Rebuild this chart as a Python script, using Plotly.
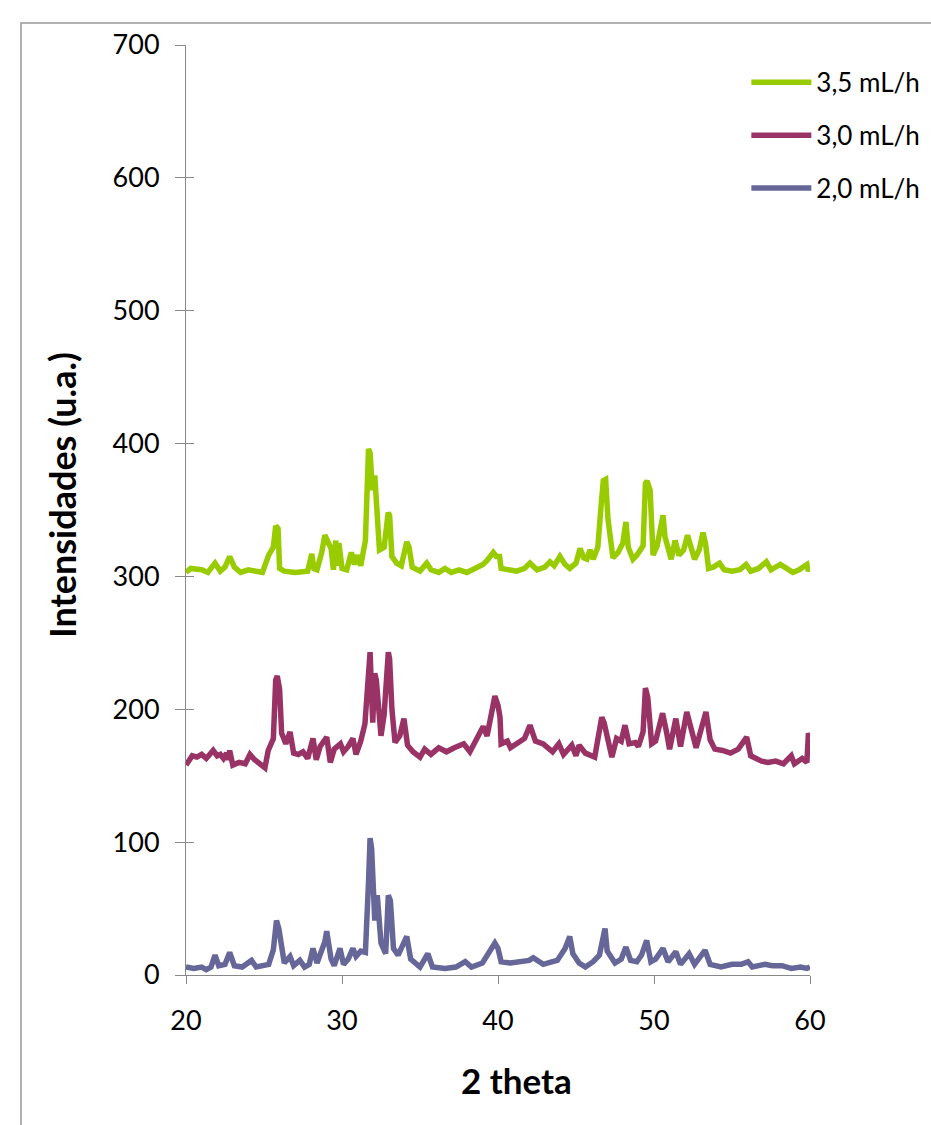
import plotly.graph_objects as go

# 3,5 mL/h
x_35 = [20.0, 20.3, 21.0, 21.4, 21.86, 22.2, 22.5, 22.8, 23.1, 23.5, 24.0, 24.5, 24.9, 25.3, 25.6, 25.75, 25.9, 26.0,
        26.3, 27.0, 27.8, 28.06, 28.2, 28.4, 28.7, 28.9, 29.1, 29.3, 29.45, 29.6, 29.7, 29.8, 30.0, 30.3, 30.6, 30.8,
        31.0, 31.2, 31.5, 31.7, 31.8, 31.95, 32.1, 32.3, 32.4, 32.7, 32.96, 33.05, 33.2, 33.5, 33.8, 34.15, 34.3, 34.5,
        35.0, 35.43, 35.7, 36.2, 36.6, 37.0, 37.5, 38.0, 38.5, 39.04, 39.3, 39.7, 39.9, 40.1, 40.2, 40.7, 41.2, 41.7,
        42.05, 42.5, 43.0, 43.33, 43.6, 43.97, 44.3, 44.6, 45.0, 45.26, 45.5, 45.7, 45.9, 46.1, 46.4, 46.6, 46.75, 46.9,
        47.05, 47.37, 47.7, 48.0, 48.2, 48.35, 48.65, 48.9, 49.3, 49.45, 49.55, 49.75, 49.94, 50.2, 50.58, 50.7, 50.9,
        51.1, 51.35, 51.6, 51.9, 52.15, 52.3, 52.6, 52.9, 53.14, 53.3, 53.5, 53.8, 54.2, 54.5, 55.0, 55.5, 55.9, 56.2,
        56.7, 57.2, 57.5, 58.1, 58.4, 58.9, 59.3, 59.8, 59.9, 60.0]
y_35 = [303, 306, 305, 303, 310, 304, 307, 315, 307, 303, 305, 304, 303, 316, 322, 338, 336, 306,
        304, 303, 304, 317, 306, 305, 318, 331, 326, 321, 305, 327, 308, 325, 306, 305, 318, 309,
        316, 308, 327, 396, 393, 365, 376, 340, 320, 322, 348, 346, 315, 310, 308, 326, 322, 307,
        304, 310, 305, 303, 306, 303, 305, 303, 306, 309, 312, 318, 315, 315, 306, 305, 304, 306,
        310, 305, 307, 311, 308, 315, 309, 306, 310, 321, 314, 313, 320, 313, 322, 352, 372, 373,
        343, 314, 318, 325, 341, 322, 313, 316, 323, 370, 372, 365, 316, 323, 346, 330, 321,
        313, 327, 316, 320, 331, 325, 313, 320, 333, 325, 306, 307, 310, 305, 304, 305, 309, 304,
        306, 311, 305, 309, 307, 303, 305, 309, 304, 307]

# 3,0 mL/h
x_30 = [20.0, 20.2, 20.4, 20.7, 21.0, 21.3, 21.74, 22.0, 22.2, 22.4, 22.6, 22.7, 22.8, 23.0, 23.4, 23.8, 24.1, 24.4,
        24.7, 25.06, 25.27, 25.6, 25.75, 25.85, 26.0, 26.13, 26.4, 26.67, 26.9, 27.2, 27.5, 27.8, 28.14, 28.35, 28.6,
        29.02, 29.25, 29.5, 29.9, 30.1, 30.4, 30.7, 30.9, 31.2, 31.47, 31.7, 31.8, 31.97, 32.1, 32.2, 32.5, 32.7,
        32.97, 33.05, 33.2, 33.4, 33.7, 33.97, 34.2, 34.55, 35.0, 35.3, 35.7, 36.2, 36.7, 37.2, 37.8, 38.2, 38.6,
        39.05, 39.3, 39.8, 40.0, 40.13, 40.2, 40.6, 40.8, 41.2, 41.7, 42.05, 42.4, 42.9, 43.5, 43.9, 44.2, 44.73,
        45.0, 45.2, 45.6, 46.2, 46.5, 46.65, 46.8, 47.3, 47.6, 47.9, 48.14, 48.4, 48.8, 49.0, 49.3, 49.45, 49.6,
        49.85, 50.1, 50.55, 50.8, 51.0, 51.4, 51.7, 52.1, 52.4, 52.7, 53.0, 53.33, 53.6, 53.9, 54.4, 54.9, 55.4,
        55.94, 56.2, 56.9, 57.3, 57.8, 58.3, 58.8, 59.0, 59.5, 59.8, 59.9, 60.0]
y_30 = [158, 162, 165, 164, 166, 163, 169, 165, 166, 163, 167, 162, 169, 158, 160, 159, 166, 162,
        159, 156, 169, 178, 222, 225, 215, 182, 174, 183, 167, 166, 168, 163, 178, 162, 172,
        179, 160, 170, 174, 168, 172, 178, 166, 176, 189, 230, 243, 190, 227, 222, 180, 196,
        243, 238, 200, 175, 180, 193, 173, 168, 164, 170, 166, 171, 168, 171, 174, 168, 177,
        187, 180, 210, 203, 194, 174, 176, 171, 174, 178, 188, 176, 174, 168, 174, 166, 173,
        165, 173, 167, 164, 185, 194, 190, 164, 178, 176, 188, 174, 175, 172, 183, 216, 209,
        174, 176, 197, 183, 170, 193, 172, 198, 183, 171, 184, 198, 177, 170, 169, 167, 170,
        179, 165, 161, 160, 161, 159, 165, 159, 163, 160, 182, 178]

# 2,0 mL/h
x_20 = [20.0, 20.5, 21.0, 21.3, 21.6, 21.86, 22.1, 22.5, 22.8, 23.1, 23.6, 24.2, 24.5, 25.0, 25.3, 25.6, 25.8, 25.95,
        26.1, 26.3, 26.67, 26.9, 27.3, 27.6, 27.9, 28.14, 28.4, 28.9, 29.02, 29.3, 29.5, 29.87, 30.1, 30.4, 30.7,
        30.9, 31.2, 31.5, 31.7, 31.8, 31.9, 32.1, 32.26, 32.5, 32.8, 32.97, 33.1, 33.3, 33.6, 34.15, 34.4, 35.0,
        35.5, 35.8, 36.6, 37.3, 37.9, 38.3, 39.0, 39.27, 39.8, 40.0, 40.2, 40.8, 41.4, 42.0, 42.26, 42.9, 43.5,
        43.8, 44.3, 44.6, 44.8, 45.2, 45.6, 46.1, 46.5, 46.86, 47.0, 47.5, 47.9, 48.2, 48.5, 48.9, 49.2, 49.53,
        49.8, 50.1, 50.58, 50.9, 51.4, 51.7, 52.25, 52.6, 53.27, 53.6, 54.3, 55.0, 55.6, 56.03, 56.3, 57.1, 57.6,
        58.2, 58.8, 59.4, 59.8, 60.0]
y_20 = [6, 5, 6, 4, 6, 15, 7, 8, 17, 7, 6, 11, 6, 7, 8, 19, 41, 35,
        21, 9, 14, 7, 11, 6, 8, 20, 9, 25, 33, 12, 7, 20, 8, 12, 20,
        14, 18, 17, 70, 103, 95, 41, 60, 24, 16, 60, 56, 20, 15, 29, 12, 6,
        16, 6, 5, 6, 10, 6, 9, 14, 24, 20, 10, 9, 10, 11, 13, 8, 10,
        11, 20, 29, 16, 9, 6, 10, 15, 35, 18, 9, 12, 21, 11, 10, 15, 26,
        10, 12, 20, 10, 17.5, 8, 16, 8, 18.6, 8, 6, 8, 8, 10, 6, 8, 7,
        7, 5, 6, 5, 6]

series_names = ["3,5 mL/h", "3,0 mL/h", "2,0 mL/h"]
series_colors = ["#99CC00", "#993366", "#666699"]
x_ticks = [20, 30, 40, 50, 60]
y_ticks = [0, 100, 200, 300, 400, 500, 600, 700]

FONT = "Lato, Carlito, Calibri, sans-serif"

fig = go.Figure()
for name, xs, ys, col in zip(series_names, [x_35, x_30, x_20], [y_35, y_30, y_20], series_colors):
    fig.add_trace(go.Scatter(x=xs, y=ys, mode="lines", name=name,
                             line=dict(color=col, width=5.5), legendgroup=name))

# dummy trace for inside ticks axis
fig.add_trace(go.Scatter(x=[None], y=[None], yaxis="y2", showlegend=False, hoverinfo="skip"))

fig.update_layout(
    width=931, height=1125,
    margin=dict(l=186, r=121, t=45, b=150, autoexpand=False),
    paper_bgcolor="white", plot_bgcolor="white",
    font=dict(family=FONT, size=27, color="black"),
    showlegend=True,
    legend=dict(x=0.898, y=0.985, xanchor="left", yanchor="top",
                font=dict(size=26), tracegroupgap=16, bgcolor="rgba(0,0,0,0)",
                itemwidth=60),
    xaxis=dict(range=[20, 60], tickvals=x_ticks, showgrid=False, zeroline=False,
               showline=True, linecolor="#888888", linewidth=1,
               ticks="outside", ticklen=8, tickcolor="#888888",
               ticklabelstandoff=14, automargin=False),
    yaxis=dict(range=[0, 700], tickvals=y_ticks, showgrid=False, zeroline=False,
               showline=True, linecolor="#888888", linewidth=1,
               ticks="outside", ticklen=10, tickcolor="#888888",
               ticklabelstandoff=10, automargin=False),
    yaxis2=dict(range=[0, 700], tickvals=y_ticks, overlaying="y", side="left",
                showgrid=False, zeroline=False, showline=False,
                ticks="inside", ticklen=8, tickcolor="#888888", showticklabels=False),
    annotations=[
        dict(text="<b>2 theta</b>", x=0.530, y=-0.113, xref="paper", yref="paper",
             showarrow=False, font=dict(size=35), xanchor="center", yanchor="middle"),
        dict(text="<b>Intensidades (u.a.)</b>", x=-0.199, y=0.516, xref="paper", yref="paper",
             showarrow=False, font=dict(size=36), textangle=-90, xanchor="center", yanchor="middle"),
    ],
    shapes=[
        dict(type="rect", xref="paper", yref="paper", x0=-0.2644, y0=-0.17, x1=1.25, y1=1.0237,
             line=dict(color="#999999", width=1.5), fillcolor="rgba(0,0,0,0)", layer="below"),
    ],
)

fig.write_html("out.html")
